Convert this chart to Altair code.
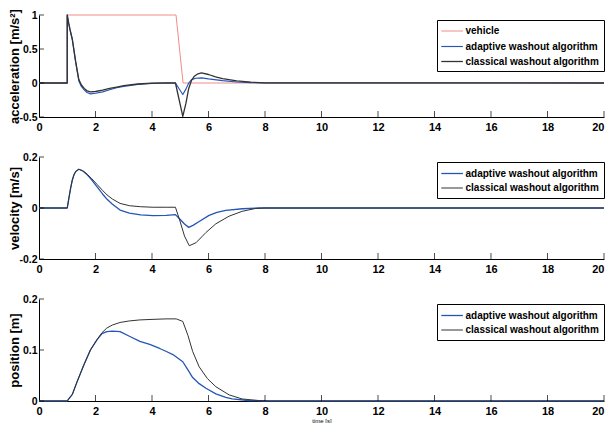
import altair as alt
import pandas as pd

# ---------------- data ----------------
X_TICKS = [0, 2, 4, 6, 8, 10, 12, 14, 16, 18, 20]

SERIES = ["vehicle", "adaptive washout algorithm", "classical washout algorithm"]
COLORS = ["#f28b8b", "#2356b5", "#333333"]
WIDTHS = [1.0, 1.3, 1.0]

# acceleration panel
ACC_TICKS = [-0.5, 0, 0.5, 1]
ACC_VEH_T = [0, 1, 1, 4.85, 5.1, 20]
ACC_VEH = [0, 0, 1, 1, 0, 0]
ACC_ADA_T = [0, 1, 1, 1.05, 1.1, 1.18, 1.3, 1.41, 1.5, 1.6, 1.7, 1.82, 2.0, 2.25, 2.5,
             2.75, 3.0, 3.5, 4.0, 4.5, 4.83, 5.09, 5.2, 5.3, 5.4, 5.55, 5.75, 6.0, 6.5,
             7.0, 7.5, 8.0, 20]
ACC_ADA = [0, 0, 1.0, 0.88, 0.78, 0.64, 0.30, 0.03, -0.05, -0.10, -0.14, -0.16, -0.15,
           -0.13, -0.10, -0.07, -0.05, -0.02, -0.005, 0, 0, -0.17, -0.09, 0.0, 0.05,
           0.07, 0.075, 0.06, 0.035, 0.015, 0.005, 0, 0]
ACC_CLA_T = [0, 1, 1, 1.05, 1.1, 1.18, 1.3, 1.41, 1.5, 1.6, 1.7, 1.82, 2.0, 2.25, 2.5,
             2.75, 3.0, 3.5, 4.0, 4.5, 4.83, 5.09, 5.2, 5.3, 5.4, 5.5, 5.6, 5.75, 6.0,
             6.25, 6.5, 7.0, 7.5, 8.0, 20]
ACC_CLA = [0, 0, 1.0, 0.88, 0.78, 0.64, 0.31, 0.05, -0.03, -0.08, -0.115, -0.13, -0.125,
           -0.105, -0.08, -0.06, -0.04, -0.015, -0.003, 0, 0, -0.49, -0.30, -0.08, 0.04,
           0.10, 0.13, 0.148, 0.125, 0.09, 0.065, 0.032, 0.012, 0.002, 0]

# velocity panel
VEL_TICKS = [-0.2, 0, 0.2]
VEL_ADA_T = [0, 1, 1.06, 1.12, 1.18, 1.24, 1.3, 1.41, 1.55, 1.7, 1.85, 2.05, 2.25, 2.41,
             2.6, 2.87, 3.2, 3.6, 4.04, 4.5, 4.83, 5.0, 5.15, 5.3, 5.45, 5.67, 6.02, 6.3,
             6.61, 7.2, 7.8, 20]
VEL_ADA = [0, 0, 0.04, 0.078, 0.11, 0.131, 0.143, 0.152, 0.145, 0.131, 0.112, 0.084,
           0.055, 0.034, 0.015, -0.008, -0.02, -0.027, -0.03, -0.029, -0.026, -0.045,
           -0.063, -0.076, -0.068, -0.053, -0.029, -0.017, -0.009, -0.003, 0, 0]
VEL_CLA_T = [0, 1, 1.06, 1.12, 1.18, 1.24, 1.3, 1.41, 1.55, 1.7, 1.85, 2.05, 2.25, 2.41,
             2.6, 2.87, 3.2, 3.6, 4.04, 4.5, 4.83, 5.0, 5.15, 5.32, 5.56, 5.91, 6.26,
             6.73, 7.19, 7.66, 8.0, 20]
VEL_CLA = [0, 0, 0.04, 0.078, 0.11, 0.131, 0.143, 0.152, 0.146, 0.133, 0.117, 0.093,
           0.069, 0.051, 0.035, 0.018, 0.009, 0.005, 0.003, 0.003, 0.003, -0.055, -0.11,
           -0.148, -0.136, -0.096, -0.062, -0.032, -0.013, -0.002, 0, 0]

# position panel
POS_TICKS = [0, 0.1, 0.2]
POS_ADA_T = [0, 1.0, 1.04, 1.18, 1.35, 1.59, 1.82, 2.05, 2.23, 2.4, 2.6, 2.87, 3.2, 3.57,
             3.92, 4.27, 4.51, 4.74, 5.09, 5.25, 5.44, 5.67, 5.91, 6.26, 6.61, 6.84, 7.4,
             8.0, 20]
POS_ADA = [0, 0, 0.003, 0.013, 0.038, 0.071, 0.10, 0.12, 0.132, 0.136, 0.137, 0.136,
           0.127, 0.117, 0.111, 0.103, 0.097, 0.091, 0.077, 0.063, 0.046, 0.034, 0.025,
           0.014, 0.007, 0.004, 0.001, 0, 0]
POS_CLA_T = [0, 1.0, 1.04, 1.18, 1.35, 1.59, 1.82, 2.05, 2.23, 2.4, 2.6, 2.87, 3.2, 3.57,
             4.0, 4.5, 4.86, 5.09, 5.27, 5.44, 5.67, 5.96, 6.26, 6.73, 7.19, 7.77, 8.2, 20]
POS_CLA = [0, 0, 0.003, 0.013, 0.038, 0.071, 0.10, 0.12, 0.134, 0.143, 0.149, 0.154,
           0.157, 0.159, 0.160, 0.161, 0.161, 0.156, 0.129, 0.097, 0.067, 0.044, 0.028,
           0.012, 0.004, 0.001, 0, 0]

FONT = "Liberation Sans, Arial, sans-serif"


def long_df(parts):
    rows = []
    for name, ts, vs in parts:
        for i, (t, v) in enumerate(zip(ts, vs)):
            rows.append({"t": t, "v": v, "series": name, "i": i})
    return pd.DataFrame(rows)


def panel(parts, names, ydom, yticks, ytitle, xtitle):
    df = long_df(parts)
    cols = [COLORS[SERIES.index(n)] for n in names]
    wids = [WIDTHS[SERIES.index(n)] for n in names]

    xaxis_kw = dict(values=X_TICKS, ticks=False, tickSize=0, grid=False,
                    domainColor="black", domainWidth=1, labelFlush=False,
                    labelAlign={"condition": {"test": "datum.value >= 20",
                                              "value": "right"},
                                "value": "center"},
                    labelFont=FONT, labelFontWeight="bold", labelFontSize=11,
                    labelColor="black", labelPadding=4)
    if xtitle:
        xaxis_kw.update(title=xtitle, titleFont=FONT, titleFontWeight="normal",
                        titleFontSize=6, titlePadding=1, titleColor="black")
    else:
        xaxis_kw.update(title=None)
    xenc = alt.X("t:Q", scale=alt.Scale(domain=[0, 20], nice=False),
                 axis=alt.Axis(**xaxis_kw))
    yenc = alt.Y("v:Q", scale=alt.Scale(domain=ydom, nice=False),
                 axis=alt.Axis(values=yticks, title=ytitle, ticks=False, tickSize=0,
                               grid=False, domainColor="black", domainWidth=1,
                               format="~g",
                               labelFont=FONT, labelFontWeight="bold",
                               labelFontSize=10.5, labelColor="black", labelPadding=2,
                               labelExpr="replace(datum.label, '\u2212', '-')",
                               minExtent=18, maxExtent=18,
                               titleFont=FONT, titleFontWeight="bold", titleFontSize=13,
                               titleColor="black", titlePadding=0))

    lines = alt.Chart(df).mark_line(strokeJoin="round").encode(
        x=xenc, y=yenc,
        color=alt.Color("series:N",
                        scale=alt.Scale(domain=names, range=cols),
                        legend=alt.Legend(title=None, orient="none", legendX=398,
                                          legendY=5, direction="vertical",
                                          strokeColor="black", fillColor="white",
                                          padding=4.5, cornerRadius=0,
                                          symbolType="M-1.2,0H2.4", symbolSize=144,
                                          symbolStrokeWidth=1.3, labelFont=FONT,
                                          labelFontWeight="bold", labelFontSize=10,
                                          labelColor="black", labelOffset=10,
                                          rowPadding=3, labelLimit=400)),
        strokeWidth=alt.StrokeWidth("series:N",
                                    scale=alt.Scale(domain=names, range=wids),
                                    legend=None),
        order="i:Q",
    )

    xt_df = pd.DataFrame({"t": X_TICKS[1:], "v": [ydom[0]] * (len(X_TICKS) - 1)})
    xticks = alt.Chart(xt_df).mark_tick(orient="vertical", size=6, thickness=1,
                                        yOffset=-3, color="black").encode(x=xenc, y=yenc)
    yt_df = pd.DataFrame({"t": [0] * len(yticks), "v": yticks})
    yticks_l = alt.Chart(yt_df).mark_tick(orient="horizontal", size=5, thickness=1,
                                          xOffset=2.5, color="black").encode(x=xenc, y=yenc)

    return alt.layer(lines, xticks, yticks_l).properties(width=565, height=102)


p1 = panel([("vehicle", ACC_VEH_T, ACC_VEH),
            ("adaptive washout algorithm", ACC_ADA_T, ACC_ADA),
            ("classical washout algorithm", ACC_CLA_T, ACC_CLA)],
           SERIES, [-0.5, 1], ACC_TICKS, "acceleration [m/s\u00b2]", None)
p2 = panel([("adaptive washout algorithm", VEL_ADA_T, VEL_ADA),
            ("classical washout algorithm", VEL_CLA_T, VEL_CLA)],
           SERIES[1:], [-0.2, 0.2], VEL_TICKS, "velocity [m/s]", None)
p3 = panel([("adaptive washout algorithm", POS_ADA_T, POS_ADA),
            ("classical washout algorithm", POS_CLA_T, POS_CLA)],
           SERIES[1:], [0, 0.2], POS_TICKS, "position [m]", "time [s]")

chart = alt.vconcat(p1, p2, p3, spacing=20).resolve_scale(
    color="independent", strokeWidth="independent", y="independent"
).resolve_legend(color="independent").properties(
    padding={"left": 0, "top": 0, "right": 0, "bottom": 0}
).configure_view(stroke=None)

chart.save("out.html", embed_options={"renderer": "svg", "actions": False})
